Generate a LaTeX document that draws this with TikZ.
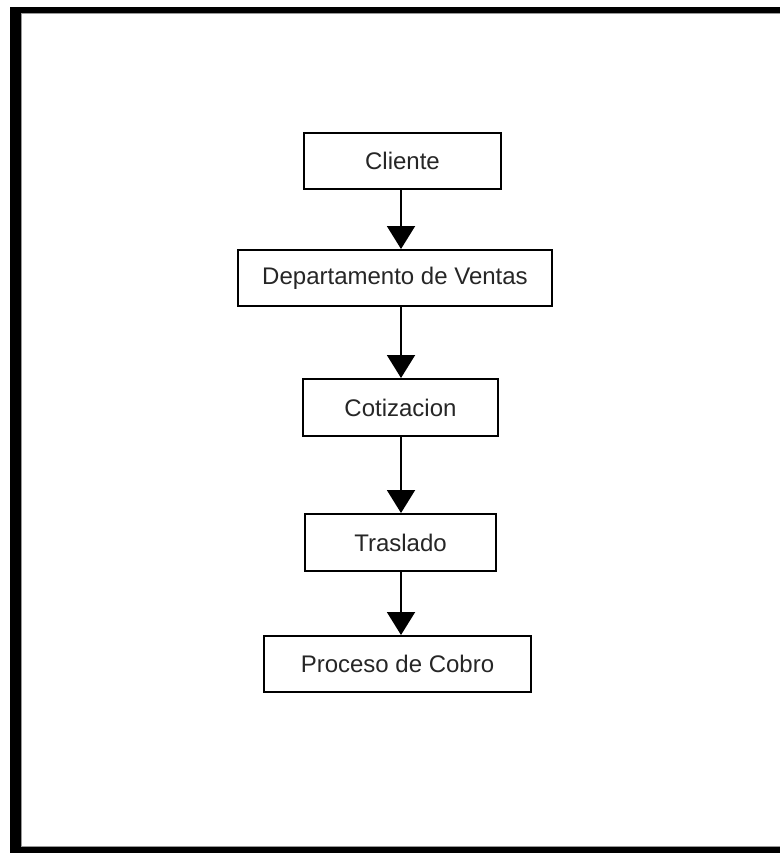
\documentclass[tikz,border=0pt]{standalone}
\usepackage{fontspec}
\setmainfont{Liberation Sans}
\usetikzlibrary{arrows.meta}
\begin{document}
\begin{tikzpicture}[x=1pt,y=-1pt,
  box/.style={draw=black,line width=2pt,rectangle,inner sep=0pt,font=\fontsize{24}{28}\selectfont,text=black!85},
  arr/.style={line width=2pt,-{Triangle[width=28pt,length=23pt]}}]
\useasboundingbox (0,0) rectangle (780,853);
\fill[white] (0,0) rectangle (780,853);
% frame
\fill[black] (10,7) rectangle (780,13);
\fill[black] (10,7) rectangle (21,853);
\fill[black] (10,847) rectangle (780,853);
\draw[black!40,line width=1pt] (21.5,13.5) -- (780,13.5);
\draw[black!40,line width=1pt] (21.5,13.5) -- (21.5,846.5) -- (780,846.5);
% nodes
\node[box,minimum width=197pt,minimum height=56pt] (cli) at (402.5,161) {Cliente};
\node[box,minimum width=314pt,minimum height=56pt] (dep) at (395,278) {Departamento de Ventas};
\node[box,minimum width=195pt,minimum height=57pt] (cot) at (400.5,407.5) {Cotizacion};
\node[box,minimum width=191pt,minimum height=57pt] (tra) at (400.5,542.5) {Traslado};
\node[box,minimum width=267pt,minimum height=56pt] (pro) at (397.5,664) {Proceso de Cobro};
\coordinate (ax) at (401,0);
% connectors
\draw[arr] (cli.south -| ax) -- (dep.north -| ax);
\draw[arr] (dep.south -| ax) -- (cot.north -| ax);
\draw[arr] (cot.south -| ax) -- (tra.north -| ax);
\draw[arr] (tra.south -| ax) -- (pro.north -| ax);
\end{tikzpicture}
\end{document}
